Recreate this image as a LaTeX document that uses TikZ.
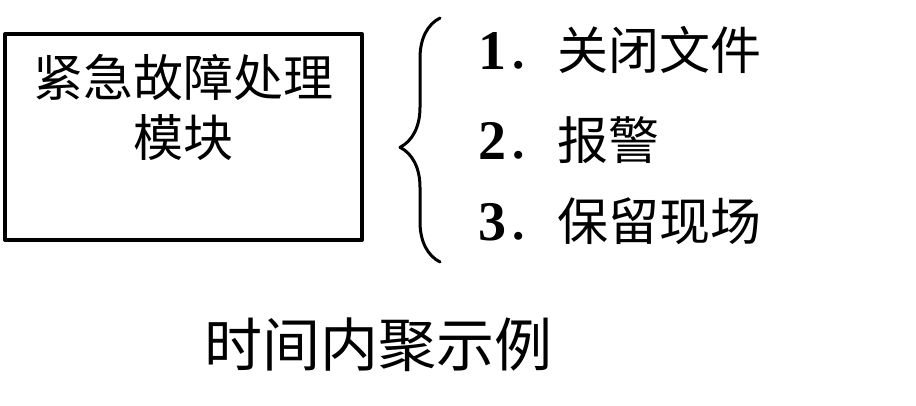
\documentclass[tikz,border=0pt]{standalone}
\usepackage{fontspec}
\setmainfont{Liberation Serif}
\newfontfamily\cjk{Noto Sans CJK SC}
\usetikzlibrary{decorations.pathreplacing}
\begin{document}
\begin{tikzpicture}[x=1pt, y=1pt, line cap=round, line join=round]
	\useasboundingbox (0, 0) rectangle (916, 406);
	% Module box
	\node [draw=black, line width=4pt, minimum width=357pt, minimum height=206pt, inner sep=0pt] (module) at (183.5, 269) {};
	\node [align=center, inner sep=0pt, font=\cjk\fontsize{50}{60}\selectfont] (module-title) at (183.5, 299) {紧急故障处理\\模块};
	% Brace
	\coordinate (brace-bottom) at (440, 144);
	\coordinate (brace-top) at (440, 388);
	\draw [line width=3pt, decorate, decoration={brace, amplitude=40pt, aspect=0.47}] (brace-bottom) -- (brace-top);
	% Items
	\foreach \a/\y [count=\x] in {关闭文件/356, 报警/266, 保留现场/185}
		\node [anchor=west, inner sep=0pt, font=\cjk\fontsize{51}{56}\selectfont] (item-\x) at (478, \y) {{\rmfamily\bfseries\fontsize{56}{56}\selectfont\x}．\a};
	% Caption
	\node [inner sep=0pt, font=\cjk\fontsize{58}{64}\selectfont] (caption) at (378, 61) {时间内聚示例};
\end{tikzpicture}
\end{document}
